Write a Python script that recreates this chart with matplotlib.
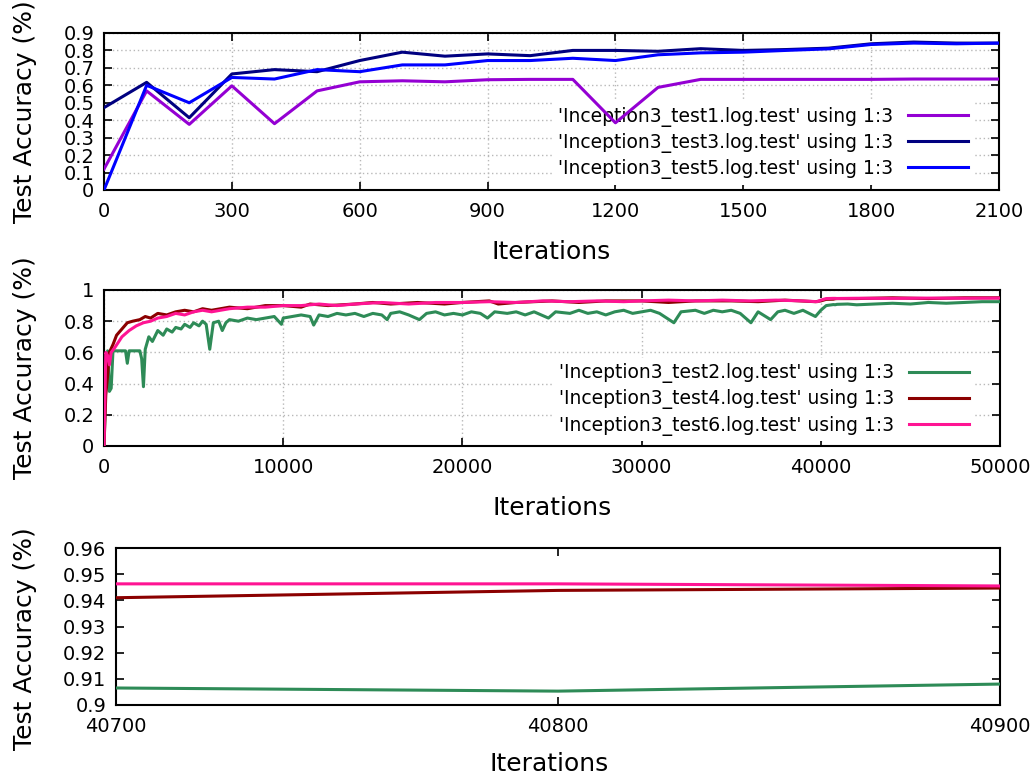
import matplotlib.pyplot as plt

# top panel: iterations 0..2100, step 100
iters_short = [0, 100, 200, 300, 400, 500, 600, 700, 800, 900, 1000,
               1100, 1200, 1300, 1400, 1500, 1600, 1700, 1800, 1900, 2000, 2100]
acc_test1 = [0.12, 0.568, 0.376, 0.597, 0.38, 0.568, 0.62, 0.626, 0.62, 0.632, 0.634,
             0.634, 0.385, 0.588, 0.634, 0.634, 0.634, 0.634, 0.634, 0.636, 0.636, 0.636]
acc_test3 = [0.472, 0.617, 0.414, 0.665, 0.69, 0.678, 0.742, 0.79, 0.767, 0.78, 0.77,
             0.80, 0.80, 0.795, 0.81, 0.80, 0.805, 0.813, 0.838, 0.848, 0.842, 0.842]
acc_test5 = [0.0, 0.60, 0.50, 0.645, 0.636, 0.69, 0.678, 0.717, 0.717, 0.742, 0.742,
             0.755, 0.742, 0.775, 0.786, 0.79, 0.80, 0.809, 0.834, 0.842, 0.838, 0.842]

# middle / bottom panels: (iteration, accuracy)
test2 = [(0, 0.0), (100, 0.40), (200, 0.61), (300, 0.35), (400, 0.37), (500, 0.61),
         (1000, 0.61), (1200, 0.61), (1300, 0.53), (1400, 0.61), (2000, 0.61),
         (2100, 0.56), (2200, 0.38), (2300, 0.62), (2500, 0.70), (2700, 0.67),
         (3000, 0.74), (3300, 0.71), (3500, 0.75), (3800, 0.73), (4000, 0.76),
         (4300, 0.75), (4500, 0.78), (4800, 0.76), (5000, 0.79), (5300, 0.77),
         (5500, 0.80), (5700, 0.78), (5900, 0.62), (6100, 0.79), (6400, 0.80),
         (6600, 0.74), (6800, 0.79), (7000, 0.81), (7500, 0.80), (8000, 0.82),
         (8500, 0.81), (9000, 0.82), (9500, 0.83), (9900, 0.78), (10000, 0.82),
         (10500, 0.83), (11000, 0.84), (11500, 0.83), (11700, 0.775), (12000, 0.84),
         (12500, 0.83), (13000, 0.85), (13500, 0.84), (14000, 0.85), (14500, 0.83),
         (15000, 0.85), (15500, 0.84), (15800, 0.81), (16000, 0.85), (16500, 0.86),
         (17000, 0.84), (17600, 0.81), (18000, 0.85), (18500, 0.86), (19000, 0.84),
         (19500, 0.85), (20000, 0.84), (20500, 0.86), (21000, 0.85), (21400, 0.82),
         (21800, 0.86), (22500, 0.85), (23000, 0.86), (23500, 0.84), (24000, 0.86),
         (24800, 0.82), (25200, 0.86), (26000, 0.85), (26500, 0.87), (27000, 0.85),
         (27500, 0.86), (28000, 0.84), (28500, 0.86), (29000, 0.87), (29500, 0.85),
         (30000, 0.86), (30500, 0.87), (31000, 0.85), (31800, 0.79), (32200, 0.86),
         (33000, 0.87), (33500, 0.85), (34000, 0.87), (34500, 0.86), (35000, 0.87),
         (35500, 0.85), (36100, 0.79), (36500, 0.86), (37200, 0.81), (37600, 0.86),
         (38000, 0.87), (38500, 0.85), (39000, 0.87), (39700, 0.83), (40000, 0.87),
         (40300, 0.90), (40700, 0.9065), (40800, 0.9053), (40900, 0.908), (41500, 0.91),
         (42000, 0.905), (43000, 0.91), (44000, 0.915), (45000, 0.91), (46000, 0.92),
         (47000, 0.915), (48000, 0.92), (49000, 0.925), (50000, 0.925)]
test4 = [(0, 0.0), (100, 0.33), (200, 0.45), (300, 0.60), (500, 0.65), (700, 0.71),
         (1000, 0.75), (1300, 0.79), (1600, 0.80), (2000, 0.81), (2300, 0.83),
         (2600, 0.82), (3000, 0.85), (3500, 0.84), (4000, 0.86), (4500, 0.87),
         (5000, 0.86), (5500, 0.88), (6000, 0.87), (7000, 0.89), (8000, 0.88),
         (9000, 0.90), (10000, 0.90), (11000, 0.89), (11500, 0.91), (12500, 0.90),
         (14000, 0.91), (15000, 0.92), (16000, 0.91), (17500, 0.92), (19000, 0.91),
         (20000, 0.92), (21500, 0.93), (22000, 0.91), (23000, 0.92), (25000, 0.93),
         (26500, 0.92), (28000, 0.93), (30000, 0.93), (31500, 0.92), (33000, 0.93),
         (35000, 0.93), (36500, 0.925), (38000, 0.935), (39700, 0.925), (40000, 0.93),
         (40300, 0.94), (40700, 0.941), (40800, 0.9438), (40900, 0.9447), (42000, 0.945),
         (44000, 0.95), (46000, 0.945), (48000, 0.95), (50000, 0.95)]
test6 = [(0, 0.0), (100, 0.60), (200, 0.58), (300, 0.52), (400, 0.60), (600, 0.63),
         (1000, 0.70), (1400, 0.74), (1800, 0.77), (2200, 0.79), (2600, 0.80),
         (3000, 0.82), (3500, 0.83), (4000, 0.85), (4500, 0.84), (5000, 0.86),
         (5500, 0.87), (6000, 0.86), (7000, 0.88), (8000, 0.89), (9000, 0.89),
         (10000, 0.90), (11000, 0.90), (12000, 0.91), (13000, 0.90), (14000, 0.91),
         (15500, 0.92), (17000, 0.91), (18500, 0.92), (20000, 0.92), (21500, 0.925),
         (23000, 0.92), (24500, 0.93), (26000, 0.925), (27500, 0.93), (29000, 0.925),
         (30000, 0.93), (31500, 0.935), (33000, 0.93), (34500, 0.935), (36000, 0.93),
         (37500, 0.935), (39000, 0.93), (39800, 0.925), (40000, 0.935), (40300, 0.945),
         (40700, 0.9463), (40800, 0.9463), (40900, 0.9455), (42000, 0.947),
         (44000, 0.946), (46000, 0.948), (48000, 0.947), (50000, 0.948)]

label_fmt = "'Inception3_test{}.log.test' using 1:3"

fig = plt.figure(figsize=(10.35, 7.76), dpi=100)
ax1 = fig.add_axes([0.1005, 0.7552, 0.8647, 0.2023])
ax2 = fig.add_axes([0.1005, 0.4253, 0.8657, 0.2010])
ax3 = fig.add_axes([0.1121, 0.0915, 0.8541, 0.2023])


def style(ax, grid=True):
    ax.tick_params(direction='in', top=True, right=True, length=6, width=1.2,
                   labelsize=14, colors='black')
    ax.tick_params(axis='x', pad=9)
    ax.tick_params(axis='y', pad=7)
    for s in ax.spines.values():
        s.set_linewidth(1.5)
    ax.set_axisbelow(True)
    if grid:
        ax.grid(True, color='#b8b8b8', linestyle=(0, (1, 2)), linewidth=1)
    ax.set_xlabel('Iterations', fontsize=18)
    ax.set_ylabel('Test Accuracy (%)', fontsize=18)


def add_legend(ax, anchor):
    leg = ax.legend(loc='lower right', bbox_to_anchor=anchor, markerfirst=False,
                    fontsize=13.5, frameon=True, facecolor='white', edgecolor='none',
                    framealpha=1, fancybox=False, handlelength=3.2,
                    handletextpad=0.8, labelspacing=0.33, borderpad=0.3)
    leg.set_zorder(1)


# top
ax1.plot(iters_short, acc_test1, color='#9400d3', lw=2.2, zorder=3, label=label_fmt.format(1))
ax1.plot(iters_short, acc_test3, color='#000080', lw=2.2, zorder=3, label=label_fmt.format(3))
ax1.plot(iters_short, acc_test5, color='#0000ff', lw=2.2, zorder=3, label=label_fmt.format(5))
ax1.set_xlim(0, 2100)
ax1.set_ylim(0, 0.9)
ax1.set_xticks(range(0, 2101, 300))
ax1.set_yticks([i / 10 for i in range(10)])
ax1.set_yticklabels(['0'] + ['0.%d' % i for i in range(1, 10)])
style(ax1)
add_legend(ax1, (0.982, -0.025))
ax1.yaxis.set_label_coords(-0.075, 0.5)
ax1.xaxis.set_label_coords(0.5, -0.32)

# middle and bottom use the same series
series = [(test2, '#2e8b57', 2), (test4, '#8b0000', 4), (test6, '#ff1493', 6)]
for ax in (ax2, ax3):
    for data, col, n in series:
        xs = [p[0] for p in data]
        ys = [p[1] for p in data]
        ax.plot(xs, ys, color=col, lw=2.2, zorder=3, label=label_fmt.format(n))

ax2.set_xlim(0, 50000)
ax2.set_ylim(0, 1)
ax2.set_xticks(range(0, 50001, 10000))
ax2.set_yticks([0, 0.2, 0.4, 0.6, 0.8, 1])
ax2.set_yticklabels(['0', '0.2', '0.4', '0.6', '0.8', '1'])
style(ax2)
add_legend(ax2, (0.982, -0.03))
ax2.yaxis.set_label_coords(-0.075, 0.5)
ax2.xaxis.set_label_coords(0.5, -0.32)

ax3.set_xlim(40700, 40900)
ax3.set_ylim(0.9, 0.96)
ax3.set_xticks([40700, 40800, 40900])
ax3.set_yticks([0.9, 0.91, 0.92, 0.93, 0.94, 0.95, 0.96])
ax3.set_yticklabels(['0.9', '0.91', '0.92', '0.93', '0.94', '0.95', '0.96'])
style(ax3, grid=False)
ax3.yaxis.set_label_coords(-0.089, 0.42)
ax3.xaxis.set_label_coords(0.49, -0.30)

fig.savefig('out.png', dpi=100)
